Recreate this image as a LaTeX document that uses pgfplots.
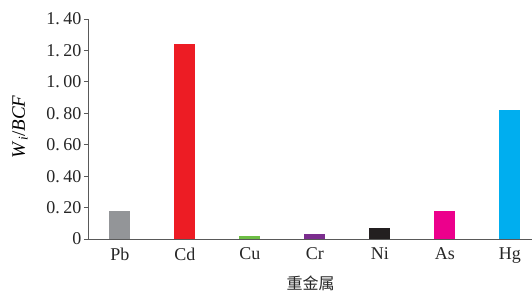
\documentclass[border=0pt]{standalone}
\usepackage{fontspec}
\setmainfont{Liberation Serif}
\newfontfamily\cjk{Noto Sans CJK SC}
\usepackage{pgfplots}
\pgfplotsset{compat=1.18}
\definecolor{cPb}{HTML}{939598}
\definecolor{cCd}{HTML}{ED1C24}
\definecolor{cCu}{HTML}{6DBE45}
\definecolor{cCr}{HTML}{7B2D8E}
\definecolor{cNi}{HTML}{231F20}
\definecolor{cAs}{HTML}{EC008C}
\definecolor{cHg}{HTML}{00AEEF}
\begin{document}
\begin{tikzpicture}
\begin{axis}[name=ax, scale only axis, width=443pt, height=220pt,
  xmin=-0.477, xmax=6.34, ymin=0, ymax=1.4,
  axis x line*=bottom, axis y line*=left,
  axis line style={draw=black!65, line width=1pt},
  ytick={0,0.2,0.4,0.6,0.8,1.0,1.2,1.4},
  yticklabels={0,0.\hspace{0.2em}20,0.\hspace{0.2em}40,0.\hspace{0.2em}60,0.\hspace{0.2em}80,1.\hspace{0.2em}00,1.\hspace{0.2em}20,1.\hspace{0.2em}40},
  xtick={0,1,2,3,4,5,6},
  xticklabels={Pb,Cd,Cu,Cr,Ni,As,Hg},
  tick label style={font=\fontsize{18}{18}\selectfont, text=black!85},
  yticklabel style={xshift=1pt},
  tick align=outside, major tick length=5pt,
  ytick style={draw=black!65, line width=0.8pt},
  xtick style={draw=none},
  ylabel={\textit{W}\textsubscript{\textit{i}}/\textit{BCF}},
  ylabel style={at={(axis description cs:-0.156,0.51)}, anchor=center, font=\fontsize{19}{19}\selectfont},
  xlabel={\cjk 重金属},
  xlabel style={at={(axis description cs:0.5,-0.2)}, anchor=center, font=\fontsize{16}{16}\selectfont, text=black!85},
  ybar=0pt, bar width=21pt, bar shift=0pt,
  every axis plot/.append style={draw=none, bar shift=0pt},
]
\addplot[fill=cPb] coordinates {(0,0.18)};
\addplot[fill=cCd] coordinates {(1,1.24)};
\addplot[fill=cCu] coordinates {(2,0.02)};
\addplot[fill=cCr] coordinates {(3,0.03)};
\addplot[fill=cNi] coordinates {(4,0.07)};
\addplot[fill=cAs] coordinates {(5,0.18)};
\addplot[fill=cHg] coordinates {(6,0.82)};
\end{axis}
\pgfresetboundingbox
\useasboundingbox ([shift={(-89pt,-53pt)}]ax.south west) rectangle ++(532pt,292pt);
\end{tikzpicture}
\end{document}
